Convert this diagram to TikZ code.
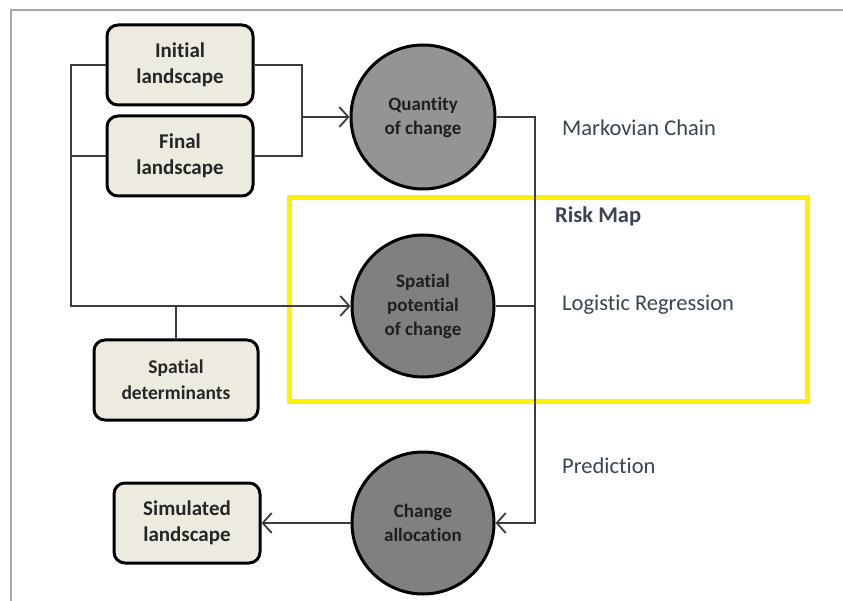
\documentclass[tikz,border=0pt]{standalone}
\usepackage{fontspec}
\setmainfont{Carlito}[Ligatures={NoCommon}]
\usetikzlibrary{arrows.meta,calc}
\definecolor{boxfill}{RGB}{237,235,224}
\definecolor{circA}{RGB}{148,148,148}
\definecolor{circB}{RGB}{128,128,128}
\definecolor{connc}{RGB}{60,60,60}
\definecolor{labc}{RGB}{58,68,84}
\definecolor{framec}{RGB}{168,168,168}
\tikzset{
  landbox/.style={draw=black, line width=3pt, rounded corners=11pt, fill=boxfill,
    minimum width=146pt, minimum height=80pt, align=center,
    font=\fontsize{21}{26}\selectfont\bfseries, text=black!85},
  proc/.style={circle, draw=black, line width=3pt, fill=circB, minimum size=142pt,
    inner sep=0pt, align=center, font=\fontsize{19}{24}\selectfont\bfseries, text=black!88},
  conn/.style={draw=connc, line width=1.5pt},
  arr/.style={conn, -{Straight Barb[length=9pt,width=20pt,line width=1.8pt]}},
  lab/.style={anchor=west, text=labc, font=\fontsize{22.5}{26}\selectfont, inner sep=0pt},
}
\begin{document}
\begin{tikzpicture}[x=1pt,y=-1pt]
\useasboundingbox (0,0) rectangle (843,601);
\fill[white] (0,0) rectangle (843,601);
% frame
\draw[framec, line width=2pt] (11,601) -- (11,10) -- (843,10);
% highlight
\node[draw=yellow, line width=5pt, minimum width=518pt, minimum height=203pt, inner sep=0pt] (risk) at (548,299.5) {};
% nodes
\node[landbox] (init) at (180,65) {Initial\\landscape};
\node[landbox] (final) at (180,156) {Final\\landscape};
\node[landbox, minimum width=164pt, font=\fontsize{19.5}{26}\selectfont\bfseries] (det) at (176,380) {Spatial\\determinants};
\node[landbox] (sim) at (187,523) {Simulated\\landscape};
\node[proc, fill=circA, minimum size=144pt] (qty) at (423,117) {Quantity\\of change};
\node[proc] (spat) at (423,306) {Spatial\\potential\\of change};
\node[proc] (chg) at (423,523) {Change\\allocation};
% junction coordinates
\coordinate (jl) at (71,306);
\coordinate (jr) at (302,117);
\coordinate (jq) at (535,117);
% left trunk
\draw[arr] (init.west) -| (jl) -- (spat.west);
\draw[conn] (final.west) -- (final.west -| jl);
\draw[conn] (det.north) -- (det.north |- jl);
% right bracket
\draw[conn] (init.east) -| (final.east -| jr) -- (final.east);
\draw[arr] (jr) -- (qty.west);
% right trunk
\draw[arr] (qty.east) -- (jq) -- (chg.east -| jq) -- (chg.east);
\draw[conn] (spat.east) -- (spat.east -| jq);
% output
\draw[arr] (chg.west) -- (sim.east);
% labels
\node[lab] (markov) at (562,128) {Markovian Chain};
\node[lab, font=\fontsize{22.5}{26}\selectfont\bfseries] (riskmap) at (555,216) {Risk Map};
\node[lab] (logit) at (562,305) {Logistic Regression};
\node[lab] (pred) at (562,466) {Prediction};
\end{tikzpicture}
\end{document}
